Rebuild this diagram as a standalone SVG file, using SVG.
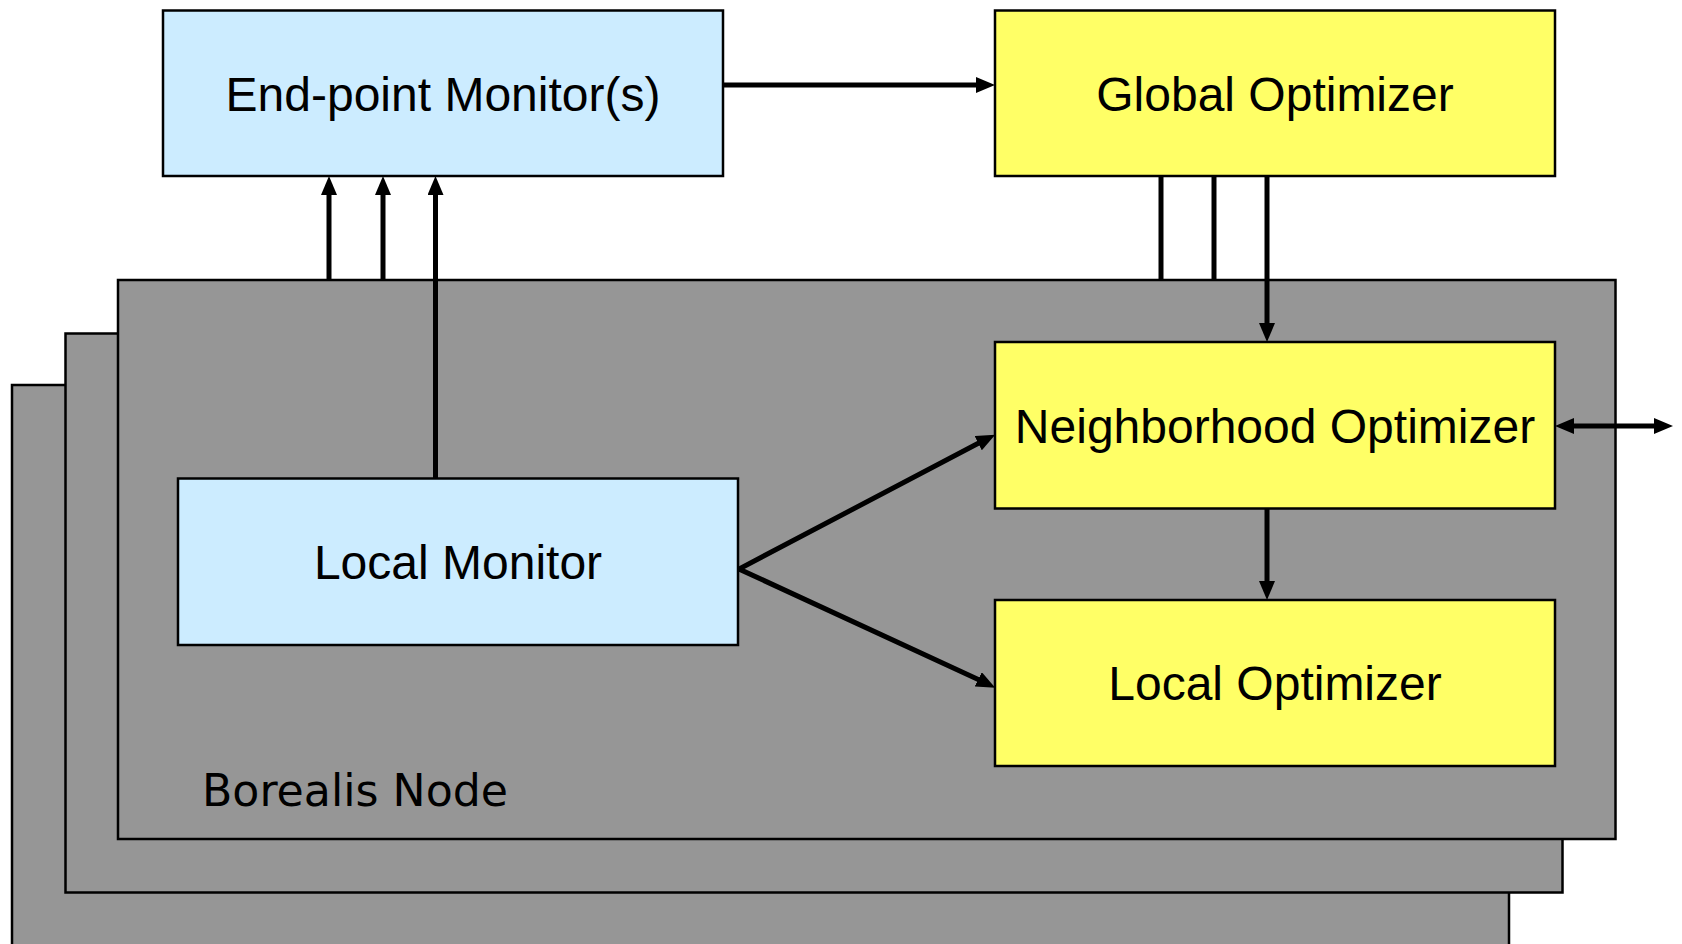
<svg xmlns="http://www.w3.org/2000/svg" width="1682" height="944" viewBox="0 0 1682 944">
  <style>
    .layer { fill: #969696; stroke: #000; stroke-width: 2.5; }
    .mon { fill: #CCECFF; stroke: #000; stroke-width: 2.5; }
    .opt { fill: #FFFF66; stroke: #000; stroke-width: 2.5; }
    .lbl { font-family: "Liberation Sans", Arial, sans-serif; font-size: 48px; fill: #000; text-anchor: middle; }
    .node-title { font-family: "Comic Sans MS", "DejaVu Sans", sans-serif; font-size: 45px; fill: #000; }
    .wire { stroke: #000; stroke-width: 5; fill: none; }
  </style>
  <defs>
    <marker id="head" markerUnits="userSpaceOnUse" markerWidth="19" markerHeight="16" refX="5" refY="8" orient="auto-start-reverse" viewBox="0 0 19 16">
      <path d="M0,0 L19,8 L0,16 z" fill="#000"/>
    </marker>
  </defs>

  <rect width="1682" height="944" fill="#fff"/>

  <!-- stacked node layers -->
  <g id="borealis-node">
    <rect class="layer" x="12" y="385" width="1497" height="562"/>
    <rect class="layer" x="65.5" y="333.5" width="1497" height="559"/>
    <rect class="layer" x="118" y="280" width="1497.5" height="559"/>
    <text class="node-title" x="202" y="806" textLength="306" lengthAdjust="spacingAndGlyphs">Borealis Node</text>
  </g>

  <!-- connectors -->
  <g id="connectors">
    <line class="wire" x1="723" y1="85" x2="981" y2="85" marker-end="url(#head)"/>
    <line class="wire" x1="329" y1="280" x2="329" y2="190" marker-end="url(#head)"/>
    <line class="wire" x1="383" y1="280" x2="383" y2="190" marker-end="url(#head)"/>
    <line class="wire" x1="435.5" y1="478" x2="435.5" y2="190" marker-end="url(#head)"/>
    <line class="wire" x1="1161" y1="176" x2="1161" y2="280"/>
    <line class="wire" x1="1214" y1="176" x2="1214" y2="280"/>
    <line class="wire" x1="1267" y1="176" x2="1267" y2="328" marker-end="url(#head)"/>
    <line class="wire" x1="1267" y1="508.5" x2="1267" y2="586" marker-end="url(#head)"/>
    <line class="wire" x1="1569" y1="426" x2="1659" y2="426" marker-start="url(#head)" marker-end="url(#head)"/>
    <polyline class="wire" points="982.6,441 739,569 982.6,681.5" stroke-linejoin="miter"/>
    <line x1="982.6" y1="441" x2="982.7" y2="440.95" stroke="none" marker-end="url(#head)"/>
    <line x1="982.6" y1="681.5" x2="982.7" y2="681.55" stroke="none" marker-end="url(#head)"/>
  </g>

  <g id="endpoint-monitor">
    <rect class="mon" x="163" y="10.5" width="560" height="165.5"/>
    <text class="lbl" x="443" y="110.5">End-point Monitor(s)</text>
  </g>

  <g id="global-optimizer">
    <rect class="opt" x="995" y="10.5" width="560" height="165.5"/>
    <text class="lbl" x="1275" y="110.5">Global Optimizer</text>
  </g>

  <g id="neighborhood-optimizer">
    <rect class="opt" x="995" y="342" width="560" height="166.5"/>
    <text class="lbl" x="1275" y="442.5">Neighborhood Optimizer</text>
  </g>

  <g id="local-optimizer">
    <rect class="opt" x="995" y="600" width="560" height="166"/>
    <text class="lbl" x="1275" y="700">Local Optimizer</text>
  </g>

  <g id="local-monitor">
    <rect class="mon" x="178" y="478.5" width="560" height="166.5"/>
    <text class="lbl" x="458" y="579">Local Monitor</text>
  </g>
</svg>
